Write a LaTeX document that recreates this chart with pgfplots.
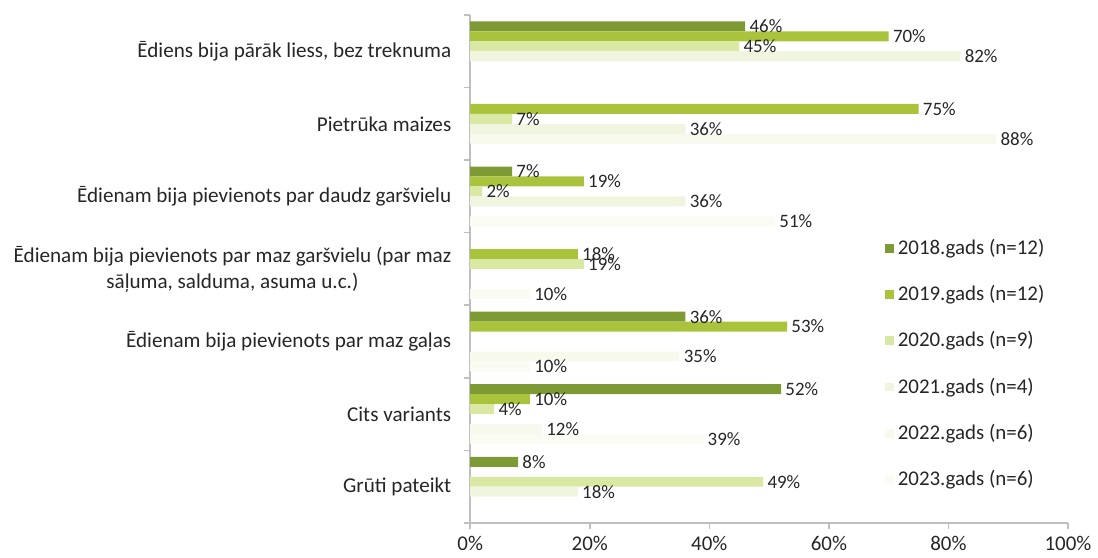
\documentclass[border=0pt]{standalone}
\usepackage{pgfplots}
\pgfplotsset{compat=1.18}
\usepackage{fontspec}
\setmainfont{Carlito}
\definecolor{c18}{HTML}{7D9A35}
\definecolor{c19}{HTML}{A9C43C}
\definecolor{c20}{HTML}{D9E8A3}
\definecolor{c21}{HTML}{F0F5DF}
\definecolor{c22}{HTML}{F6F9EC}
\definecolor{c23}{HTML}{FAFCF3}
\definecolor{txt}{HTML}{262626}
\definecolor{axl}{HTML}{BFBFBF}
\begin{document}
\begin{tikzpicture}
\begin{axis}[
  width=300pt, height=255pt, scale only axis,
  xbar, bar width=5pt,
  xmin=0, xmax=100,
  ymin=-0.5, ymax=6.5,
  ytick={0,...,6},
  yticklabels={Grūti pateikt,
               Cits variants,
               Ēdienam bija pievienots par maz gaļas,
               {Ēdienam bija pievienots par maz garšvielu (par maz\\sāļuma, salduma, asuma u.c.)},
               Ēdienam bija pievienots par daudz garšvielu,
               Pietrūka maizes,
               {Ēdiens bija pārāk liess, bez treknuma}},
  yticklabel style={align=center, font=\fontsize{10.6}{13}\selectfont, text=txt, xshift=-3pt},
  xtick={0,20,...,100},
  xticklabels={0\%,20\%,40\%,60\%,80\%,100\%},
  xticklabel style={font=\fontsize{10.5}{13}\selectfont, text=txt},
  axis x line*=bottom, axis y line*=left,
  axis line style={draw=axl, line width=0.8pt},
  tick align=outside,
  major tick length=3pt,
  x tick style={draw=axl, line width=0.8pt},
  major y tick style={draw=none},
  minor ytick={-0.5,0.5,...,6.5},
  minor y tick style={draw=axl, line width=0.8pt},
  minor tick length=3pt,
  point meta=x,
  nodes near coords={\pgfmathprintnumber[assume math mode=true]{\pgfplotspointmeta}\%},
  nodes near coords style={font=\fontsize{9.5}{11}\selectfont, text=txt, inner sep=2pt},
  legend style={at={(rel axis cs:0.683,0.575)}, anchor=north west, draw=none, fill=none,
    font=\fontsize{10.5}{13}\selectfont, text=txt, row sep=10pt},
  legend cell align=left,
  legend image code/.code={\fill[#1] (0pt,-2.2pt) rectangle (4.5pt,2.2pt);},
  extra description/.code={\path (rel axis cs:0,1) ++(-236pt,7.5pt) (rel axis cs:1,1) ++(13pt,7.5pt);},
]
\addplot+[draw=none, fill=c18, bar shift=12.5pt] coordinates {(46,6) (7,4) (36,2) (52,1) (8,0)};
\addlegendentry{2018.gads (n=12)}
\addplot+[draw=none, fill=c19, bar shift=7.5pt] coordinates {(70,6) (75,5) (19,4) (18,3) (53,2) (10,1)};
\addlegendentry{2019.gads (n=12)}
\addplot+[draw=none, fill=c20, bar shift=2.5pt] coordinates {(45,6) (7,5) (2,4) (19,3) (4,1) (49,0)};
\addlegendentry{2020.gads (n=9)}
\addplot+[draw=none, fill=c21, bar shift=-2.5pt] coordinates {(82,6) (36,5) (36,4) (18,0)};
\addlegendentry{2021.gads (n=4)}
\addplot+[draw=none, fill=c22, bar shift=-7.5pt] coordinates {(88,5) (35,2) (12,1)};
\addlegendentry{2022.gads (n=6)}
\addplot+[draw=none, fill=c23, bar shift=-12.5pt] coordinates {(51,4) (10,3) (10,2) (39,1)};
\addlegendentry{2023.gads (n=6)}
\end{axis}
\end{tikzpicture}
\end{document}
